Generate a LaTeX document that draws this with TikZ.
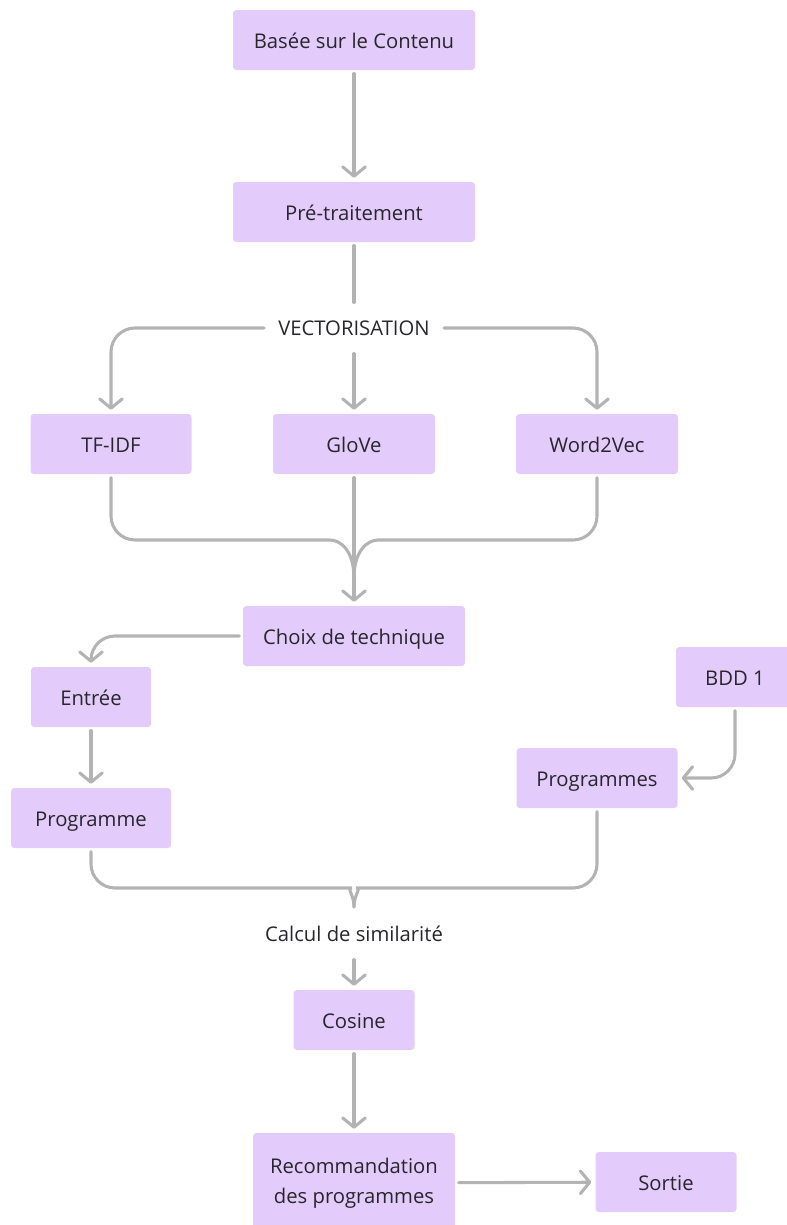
\documentclass[tikz,border=0pt]{standalone}
\usepackage{fontspec}
\setmainfont{Open Sans}
\usetikzlibrary{arrows.meta}
\definecolor{boxfill}{HTML}{E3CCFC}
\definecolor{linegray}{HTML}{B3B3B3}
\definecolor{ink}{HTML}{28262D}
\begin{document}
\begin{tikzpicture}[x=0.75pt,y=-0.75pt,
  tile/.style={rectangle, fill=boxfill, rounded corners=2.5pt, minimum height=45pt,
    text=ink, font=\fontsize{15.2}{22.5}\selectfont, align=center, inner sep=0pt},
  box/.style={tile, text height=14pt, text depth=2pt},
  lbl/.style={text=ink, font=\fontsize{15.2}{18}\selectfont, inner xsep=8pt,
    inner ysep=0pt, minimum height=33pt},
  conn/.style={draw=linegray, line width=2.3pt, line cap=round, rounded corners=18pt,
    shorten <=2.5pt, shorten >=2.5pt},
  arr/.style={conn, shorten >=3pt,
    -{Straight Barb[length=7pt,width=17pt,line cap=round,line join=round]}},
]
\useasboundingbox (0,0) rectangle (787,1225);
\clip (0,0) rectangle (787,1225);

% boxes and labels
\node[box, minimum width=181.5pt] (base) at (354,40) {Basée sur le Contenu};
\node[box, minimum width=181.5pt] (pre) at (354,212) {Pré-traitement};
\node[lbl] (vec) at (354,328) {VECTORISATION};
\node[box, minimum width=120.75pt] (tfidf) at (111,444) {TF-IDF};
\node[box, minimum width=121.5pt] (glove) at (354,444) {GloVe};
\node[box, minimum width=121.5pt] (w2v) at (597,444) {Word2Vec};
\node[box, minimum width=166.5pt] (choix) at (354,636) {Choix de technique};
\node[box, minimum width=90pt] (entree) at (91,697) {Entrée};
\node[box, minimum width=120pt] (prog) at (91,818) {Programme};
\node[box, minimum width=88.5pt] (bdd) at (735,677) {BDD 1};
\node[box, minimum width=120.75pt] (progs) at (597,778) {Programmes};
\node[lbl] (calc) at (354,934) {Calcul de similarité};
\node[box, minimum width=90.75pt] (cos) at (354,1020) {Cosine};
\node[tile, minimum width=151.5pt, minimum height=75pt] (reco) at (354,1183)
  {Recommandation\\des programmes};
\node[box, minimum width=105.75pt] (sortie) at (666,1182) {Sortie};

% merge points of the joining connectors
\coordinate (join1) at (354,578);
\coordinate (join2) at (354,907);

% connectors
\draw[arr] (base) -- (pre);
\draw[conn] (pre) -- (vec);
\draw[arr] (vec.west) -| (tfidf.north);
\draw[arr] (vec.south) -- (glove.north);
\draw[arr] (vec.east) -| (w2v.north);

\draw[conn, shorten >=0pt] (tfidf.south) |- (306,540) .. controls (340,540) and (354,550) .. (join1);
\draw[conn, shorten >=0pt] (w2v.south) |- (402,540) .. controls (368,540) and (354,550) .. (join1);
\draw[arr] (glove) -- (choix);

\draw[arr] (choix.west) -| (entree.north);
\draw[arr] (entree) -- (prog);
\draw[arr] (bdd.south) |- (progs.east);

\draw[conn, shorten >=0pt] (prog.south) |- (328,888) .. controls (346,888) and (354,894) .. (join2);
\draw[conn, shorten >=0pt] (progs.south) |- (380,888) .. controls (362,888) and (354,894) .. (join2);

\draw[arr] (calc) -- (cos);
\draw[arr] (cos) -- (reco);
\draw[arr] (reco) -- (sortie);
\end{tikzpicture}
\end{document}
